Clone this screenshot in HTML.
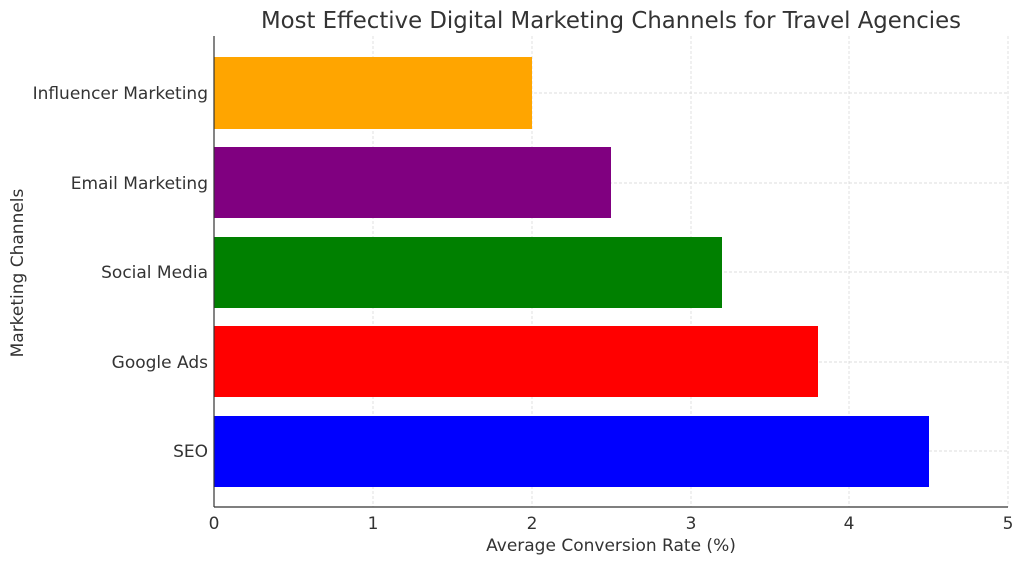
<!DOCTYPE html>
<html><head><meta charset="utf-8"><style>
html,body{margin:0;padding:0;background:#fff;}
svg text{font-family:"DejaVu Sans","Liberation Sans",sans-serif;fill:#333;}
</style></head><body>
<svg width="1024" height="564" viewBox="0 0 1024 564" xmlns="http://www.w3.org/2000/svg">
<rect width="1024" height="564" fill="#fff"/>
<g stroke="#d4d4d4" stroke-width="0.7" stroke-dasharray="3,2">
<line x1="373" y1="36" x2="373" y2="507"/>
<line x1="532" y1="36" x2="532" y2="507"/>
<line x1="691" y1="36" x2="691" y2="507"/>
<line x1="849" y1="36" x2="849" y2="507"/>
<line x1="1008" y1="36" x2="1008" y2="507"/>
<line x1="214" y1="93" x2="1008" y2="93"/>
<line x1="214" y1="183" x2="1008" y2="183"/>
<line x1="214" y1="272" x2="1008" y2="272"/>
<line x1="214" y1="362" x2="1008" y2="362"/>
<line x1="214" y1="451" x2="1008" y2="451"/>
</g>
<rect x="214" y="57" width="318" height="72" fill="#ffa500"/>
<rect x="214" y="147" width="397" height="71" fill="#800080"/>
<rect x="214" y="237" width="508" height="71" fill="#008000"/>
<rect x="214" y="326" width="604" height="71" fill="#ff0000"/>
<rect x="214" y="416" width="715" height="71" fill="#0000ff"/>
<g stroke="#333" stroke-width="1.2">
<line x1="214" y1="36" x2="214" y2="507"/>
<line x1="214" y1="507" x2="1008" y2="507"/>
</g>
<g font-size="17" text-anchor="middle">
<text x="214" y="529">0</text><text x="373" y="529">1</text><text x="532" y="529">2</text>
<text x="691" y="529">3</text><text x="849" y="529">4</text><text x="1008" y="529">5</text>
</g>
<g font-size="17" text-anchor="end">
<text x="208" y="99">Influencer Marketing</text>
<text x="208" y="189">Email Marketing</text>
<text x="208" y="278">Social Media</text>
<text x="208" y="368">Google Ads</text>
<text x="208" y="457">SEO</text>
</g>
<text x="611" y="551" font-size="17" text-anchor="middle">Average Conversion Rate (%)</text>
<text transform="translate(23,273) rotate(-90)" font-size="17" text-anchor="middle">Marketing Channels</text>
<text x="611" y="28" font-size="22.8" text-anchor="middle">Most Effective Digital Marketing Channels for Travel Agencies</text>
</svg>
</body></html>
